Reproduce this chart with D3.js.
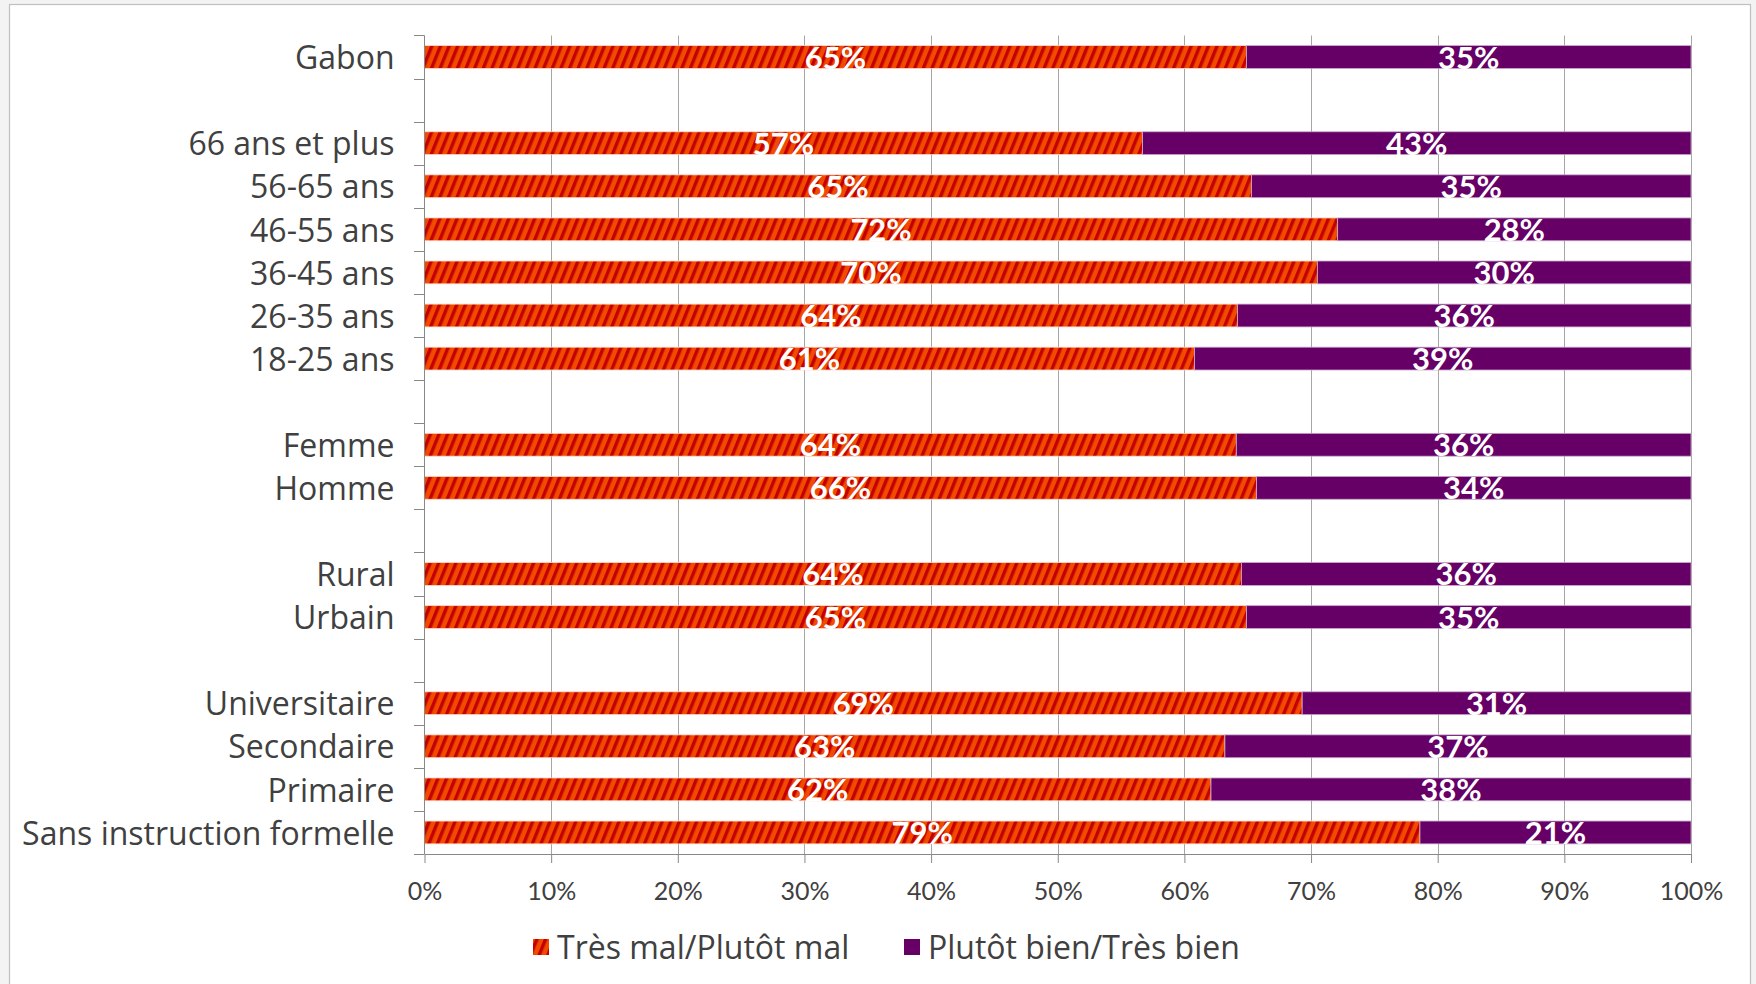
<!DOCTYPE html>
<html>
<head>
<meta charset="utf-8">
<script src="https://cdn.jsdelivr.net/npm/d3@7"></script>
<style>
  html, body { margin: 0; padding: 0; background: #f3f3f3; }
  svg { display: block; }
  text { font-family: Lato, "Open Sans", sans-serif; }
  text.cat { font-family: "Open Sans", Lato, sans-serif; }
</style>
</head>
<body>
<svg id="chart" width="1756" height="984"></svg>
<script>
// ---- Data (top to bottom; null = empty separator row) ----
const categories = ["Gabon", null, "66 ans et plus", "56-65 ans", "46-55 ans", "36-45 ans", "26-35 ans", "18-25 ans", null, "Femme", "Homme", null, "Rural", "Urbain", null, "Universitaire", "Secondaire", "Primaire", "Sans instruction formelle"];
const malValues  = [64.9, null, 56.7, 65.3, 72.1, 70.5, 64.2, 60.8, null, 64.1, 65.7, null, 64.5, 64.9, null, 69.3, 63.2, 62.1, 78.6];
const bienValues = [35.1, null, 43.3, 34.7, 27.9, 29.5, 35.8, 39.2, null, 35.9, 34.3, null, 35.5, 35.1, null, 30.7, 36.8, 37.9, 21.4];
const malLabels  = ["65%", null, "57%", "65%", "72%", "70%", "64%", "61%", null, "64%", "66%", null, "64%", "65%", null, "69%", "63%", "62%", "79%"];
const bienLabels = ["35%", null, "43%", "35%", "28%", "30%", "36%", "39%", null, "36%", "34%", null, "36%", "35%", null, "31%", "37%", "38%", "21%"];
const seriesNames = ["Très mal/Plutôt mal", "Plutôt bien/Très bien"];
const xTicks = [0, 10, 20, 30, 40, 50, 60, 70, 80, 90, 100];

const svg = d3.select("#chart");

// frame
svg.append("rect").attr("x", 9.5).attr("y", 4.5).attr("width", 1741).attr("height", 1000)
  .attr("fill", "#ffffff").attr("stroke", "#bfbfbf").attr("stroke-width", 1.2);

// hatch pattern
const defs = svg.append("defs");
const pat = defs.append("pattern").attr("id", "hatch").attr("patternUnits", "userSpaceOnUse")
  .attr("width", 8).attr("height", 8).attr("patternTransform", "rotate(22)");
pat.append("rect").attr("width", 8).attr("height", 8).attr("fill", "#F04B00");
pat.append("rect").attr("width", 3.4).attr("height", 8).attr("fill", "#C40000");

const x = d3.scaleLinear().domain([0, 100]).range([424.5, 1691]);
const y = d3.scaleBand().domain(d3.range(categories.length)).range([35.5, 854])
  .paddingInner(0.47).paddingOuter(0.235);

// gridlines
svg.append("g").selectAll("line").data(xTicks.slice(1)).join("line")
  .attr("x1", d => Math.round(x(d)) + 0.5).attr("x2", d => Math.round(x(d)) + 0.5)
  .attr("y1", 35.5).attr("y2", 854)
  .attr("stroke", "#a6a6a6").attr("stroke-width", 1);

// bars
const rows = d3.range(categories.length).filter(i => malValues[i] != null);
const barG = svg.append("g");
barG.selectAll("rect.mal").data(rows).join("rect").attr("class", "mal")
  .attr("x", x(0)).attr("y", i => y(i)).attr("height", y.bandwidth())
  .attr("width", i => x(malValues[i]) - x(0))
  .attr("fill", "url(#hatch)").attr("stroke", "#ffd9c8").attr("stroke-width", 0.8);
barG.selectAll("rect.bien").data(rows).join("rect").attr("class", "bien")
  .attr("x", i => x(malValues[i])).attr("y", i => y(i)).attr("height", y.bandwidth())
  .attr("width", i => x(malValues[i] + bienValues[i]) - x(malValues[i]))
  .attr("fill", "#660066").attr("stroke", "#c9a6c9").attr("stroke-width", 0.8);

// data labels
const labFs = 31;
const labG = svg.append("g").attr("font-weight", "bold").attr("fill", "#ffffff")
  .attr("font-size", labFs).attr("text-anchor", "middle");
labG.selectAll("text.mal").data(rows).join("text")
  .attr("x", i => x(malValues[i] / 2))
  .attr("y", i => y(i) + y.bandwidth() / 2 + labFs * 0.37)
  .text(i => malLabels[i]);
labG.selectAll("text.bien").data(rows).join("text")
  .attr("x", i => x(malValues[i] + bienValues[i] / 2))
  .attr("y", i => y(i) + y.bandwidth() / 2 + labFs * 0.37)
  .text(i => bienLabels[i]);

// x axis
const xAxis = svg.append("g").attr("transform", "translate(0,854)")
  .call(d3.axisBottom(x).tickValues(xTicks).tickFormat(d => d + "%").tickSize(9).tickPadding(19).tickSizeOuter(0));
xAxis.select(".domain").attr("stroke", "#888888");
xAxis.selectAll(".tick line").attr("stroke", "#888888");
xAxis.selectAll("text").attr("font-size", 25).attr("fill", "#404040");

// y axis
const yAxis = svg.append("g").attr("transform", "translate(424.5,0)")
  .call(d3.axisLeft(y).tickFormat(i => categories[i] || "").tickSize(0).tickPadding(30));
yAxis.select(".domain").attr("stroke", "#888888").attr("d", "M0,35.5V854");
yAxis.selectAll("text").attr("class", "cat").attr("font-size", 32).attr("fill", "#404040").attr("dy", "0.38em");
// boundary ticks between rows
const bounds = d3.range(categories.length).map(i => y(i) - y.step() * y.paddingInner() / 2).concat([854]);
svg.append("g").selectAll("line").data(bounds).join("line")
  .attr("x1", 414).attr("x2", 424.5)
  .attr("y1", d => Math.round(d) + 0.5).attr("y2", d => Math.round(d) + 0.5)
  .attr("stroke", "#888888").attr("stroke-width", 1);

// legend
const leg = svg.append("g");
const legItems = [
  {name: seriesNames[0], fill: "url(#hatch)", sx: 533, tx: 557},
  {name: seriesNames[1], fill: "#660066", sx: 904, tx: 928}
];
leg.selectAll("rect").data(legItems).join("rect")
  .attr("x", d => d.sx).attr("y", 939).attr("width", 16).attr("height", 16).attr("fill", d => d.fill);
leg.selectAll("text").data(legItems).join("text").attr("class", "cat")
  .attr("x", d => d.tx).attr("y", 959).attr("font-size", 32).attr("fill", "#404040")
  .text(d => d.name);
</script>
</body>
</html>
